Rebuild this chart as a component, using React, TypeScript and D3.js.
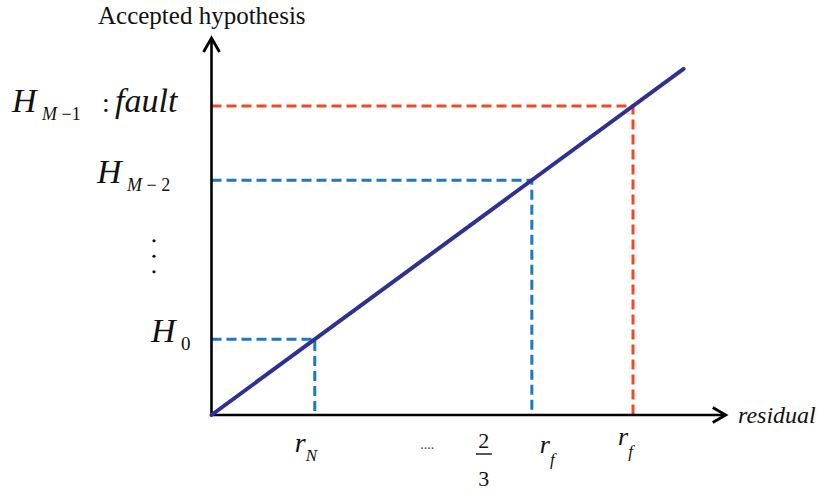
import React from 'react'
import * as d3 from 'd3'

// residual thresholds (in units of r_f) and the hypothesis level they map to
const thresholds = [0.245, 0.76, 1.0]
const levels = [0.245, 0.76, 1.0]
const thresholdKinds = ['normal', 'normal', 'fault']
const lineEnd = 1.12
const axisMax = 1.22

const WIDTH = 830
const HEIGHT = 491
const ORIGIN = { x: 211.5, y: 415 }

const BLUE = '#1f78c6'
const RED = '#ef4a24'
const NAVY = '#2e3192'
const SERIF = 'Liberation Serif'

const x = d3.scaleLinear().domain([0, 1]).range([ORIGIN.x, 633])
const y = d3.scaleLinear().domain([0, 1]).range([ORIGIN.y, 106])

const line = d3.line<[number, number]>()
  .x(d => x(d[0]))
  .y(d => y(d[1]))

export default function App () {
  const diag: [number, number][] = [[0, 0], [lineEnd, lineEnd]]
  const xEnd = x(axisMax)
  const yEnd = y(axisMax)
  const txt = { fontFamily: SERIF }

  return (
    <div style={{ position: 'absolute', left: 0, top: 0 }}>
      <svg width={WIDTH} height={HEIGHT} viewBox={`0 0 ${WIDTH} ${HEIGHT}`} style={{ display: 'block', background: '#fff', fontFamily: SERIF }}>
        {/* axis titles */}
        <text x={98} y={24} style={txt} fontSize={25} fill='#111'>Accepted hypothesis</text>
        <text x={738} y={423} style={txt} fontStyle='italic' fontSize={24} fill='#111'>residual</text>

        {/* y labels */}
        <text y={y(levels[2]) + 6} style={txt} fill='#111'>
          <tspan x={12} fontStyle='italic' fontSize={34}>H</tspan>
          <tspan x={42} dy={8} fontStyle='italic' fontSize={18}>M</tspan>
          <tspan fontSize={18}> −1</tspan>
          <tspan x={102} dy={-8} fontSize={28}>:</tspan>
          <tspan x={115} fontStyle='italic' fontSize={34}>fault</tspan>
        </text>
        <text y={y(levels[1]) + 3} style={txt} fill='#111'>
          <tspan x={97} fontStyle='italic' fontSize={34}>H</tspan>
          <tspan x={127} dy={8} fontStyle='italic' fontSize={18}>M</tspan>
          <tspan fontSize={18}> − 2</tspan>
        </text>
        <text y={y(levels[0]) + 3} style={txt} fill='#111'>
          <tspan x={151} fontStyle='italic' fontSize={34}>H</tspan>
          <tspan x={181} dy={8} fontSize={19}>0</tspan>
        </text>

        {/* x labels */}
        <text y={452} style={txt} fill='#111'>
          <tspan x={x(thresholds[0]) - 20} fontStyle='italic' fontSize={28}>r</tspan>
          <tspan dy={9} fontStyle='italic' fontSize={17}>N</tspan>
        </text>
        <text x={(x(thresholds[0]) + x(thresholds[1])) / 2 + 4} y={449} style={txt} fontSize={14} textAnchor='middle' fill='#444'>....</text>
        <text x={x(thresholds[1]) - 48} y={448} style={txt} fontSize={22} textAnchor='middle' fill='#111'>2</text>
        <text x={x(thresholds[1]) - 48} y={486} style={txt} fontSize={22} textAnchor='middle' fill='#111'>3</text>
        <text y={453} style={txt} fill='#111'>
          <tspan x={x(thresholds[1]) + 8} fontStyle='italic' fontSize={26}>r</tspan>
          <tspan dy={12} fontStyle='italic' fontSize={17}>f</tspan>
        </text>
        <text y={445} style={txt} fill='#111'>
          <tspan x={x(thresholds[2]) - 15} fontStyle='italic' fontSize={26}>r</tspan>
          <tspan dy={12} fontStyle='italic' fontSize={17}>f</tspan>
        </text>

        {/* dashed guides */}
        {thresholds.map((t, i) => {
          const c = thresholdKinds[i] === 'fault' ? RED : BLUE
          const path = d3.path()
          path.moveTo(x(0), y(levels[i]))
          path.lineTo(x(t), y(levels[i]))
          path.lineTo(x(t), y(0))
          return (
            <path key={i} d={path.toString()} fill='none' stroke={c} strokeWidth={3} strokeDasharray='10,5' />
          )
        })}

        {/* axes */}
        <g stroke='#000' strokeWidth={2.6} fill='none'>
          <line x1={ORIGIN.x} y1={ORIGIN.y} x2={ORIGIN.x} y2={yEnd} />
          <line x1={ORIGIN.x - 1} y1={ORIGIN.y} x2={xEnd} y2={ORIGIN.y} />
          <polyline points={`${ORIGIN.x - 8},${yEnd + 14} ${ORIGIN.x},${yEnd} ${ORIGIN.x + 8},${yEnd + 14}`} strokeWidth={2.8} />
          <polyline points={`${xEnd - 13},${ORIGIN.y - 7.5} ${xEnd},${ORIGIN.y} ${xEnd - 13},${ORIGIN.y + 7.5}`} strokeWidth={2.8} />
        </g>

        {/* residual -> hypothesis line */}
        <path d={line(diag) || ''} fill='none' stroke={NAVY} strokeWidth={4} strokeLinecap='round' />

        {/* fraction bar and vertical ellipsis */}
        <line x1={x(thresholds[1]) - 56} x2={x(thresholds[1]) - 40} y1={454} y2={454} stroke='#111' strokeWidth={1.4} />
        {[0, 1, 2].map(k => (
          <circle key={k} cx={154} cy={(y(levels[0]) + y(levels[1])) / 2 - 19 + k * 15.5} r={1.6} fill='#111' />
        ))}
      </svg>
    </div>
  )
}
